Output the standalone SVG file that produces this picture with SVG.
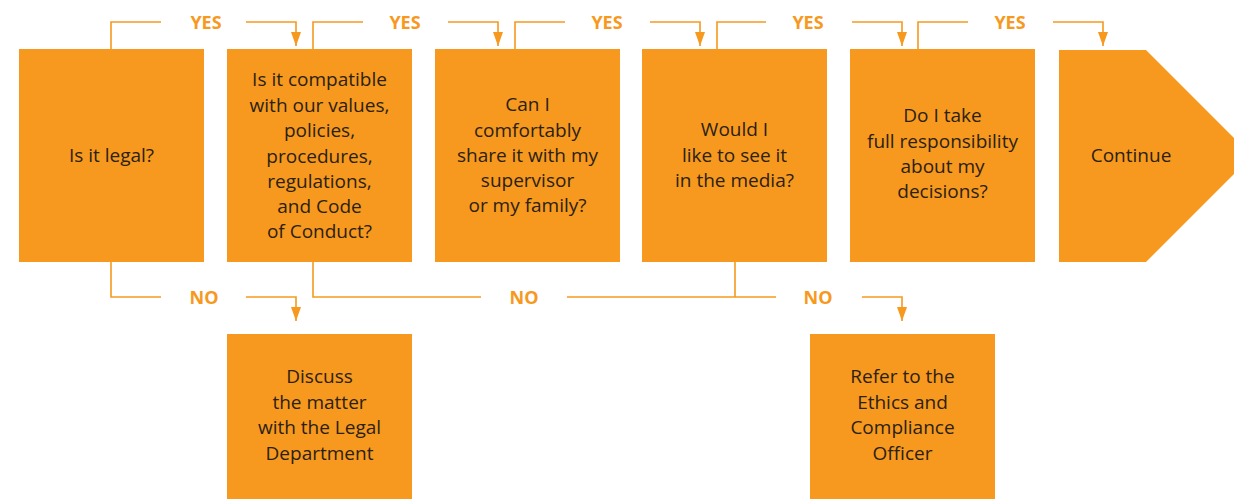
<svg xmlns="http://www.w3.org/2000/svg" width="1234" height="499" viewBox="0 0 1234 499">
<defs>
<marker id="arr" viewBox="0 0 14 10" refX="14" refY="5" markerWidth="14" markerHeight="10" markerUnits="userSpaceOnUse" orient="auto">
<path d="M0,0 L14,5 L0,10 Z" fill="#F7991E"/>
</marker>
<style>
.box{fill:#F7991E;}
.t{font-family:"Open Sans","Liberation Sans",sans-serif;font-size:19px;fill:#2b2113;text-anchor:middle;}
.lbl{font-family:"Open Sans","Liberation Sans",sans-serif;font-size:18px;font-weight:bold;fill:#F7991E;text-anchor:middle;}
.ln{fill:none;stroke:#F7991E;stroke-width:1.6;}
</style>
</defs>
<rect width="1234" height="499" fill="#ffffff"/>
<g id="connectors">
<path class="ln" d="M111,49 V22 H161"/>
<path class="ln" d="M246,22 H296 V46" marker-end="url(#arr)"/>
<path class="ln" d="M313,49 V22 H363"/>
<path class="ln" d="M448,22 H498 V46" marker-end="url(#arr)"/>
<path class="ln" d="M515,49 V22 H565"/>
<path class="ln" d="M650,22 H700 V46" marker-end="url(#arr)"/>
<path class="ln" d="M717,49 V22 H766"/>
<path class="ln" d="M852,22 H902 V46" marker-end="url(#arr)"/>
<path class="ln" d="M918,49 V22 H968"/>
<path class="ln" d="M1053,22 H1103 V46" marker-end="url(#arr)"/>
<path class="ln" d="M111,262 V297 H161"/>
<path class="ln" d="M246,297 H296 V321" marker-end="url(#arr)"/>
<path class="ln" d="M313,262 V297 H481"/>
<path class="ln" d="M567,297 H776"/>
<path class="ln" d="M735,262 V297"/>
<path class="ln" d="M862,297 H902 V321" marker-end="url(#arr)"/>
<text class="lbl" x="206" y="29">YES</text>
<text class="lbl" x="405" y="29">YES</text>
<text class="lbl" x="607" y="29">YES</text>
<text class="lbl" x="808" y="29">YES</text>
<text class="lbl" x="1010" y="29">YES</text>
<text class="lbl" x="204" y="304">NO</text>
<text class="lbl" x="524" y="304">NO</text>
<text class="lbl" x="818" y="304">NO</text>
</g>
<g id="n1">
<rect class="box" x="19" y="49" width="185" height="213"/>
<text class="t" x="111.5" y="162">Is it legal?</text>
</g>
<g id="n2">
<rect class="box" x="227" y="49" width="185" height="213"/>
<text class="t" x="319.5" y="86">Is it compatible</text>
<text class="t" x="319.5" y="111.5">with our values,</text>
<text class="t" x="319.5" y="137">policies,</text>
<text class="t" x="319.5" y="162.5">procedures,</text>
<text class="t" x="319.5" y="188">regulations,</text>
<text class="t" x="319.5" y="213">and Code</text>
<text class="t" x="319.5" y="238">of Conduct?</text>
</g>
<g id="n3">
<rect class="box" x="435" y="49" width="185" height="213"/>
<text class="t" x="527.5" y="111">Can I</text>
<text class="t" x="527.5" y="136.5">comfortably</text>
<text class="t" x="527.5" y="162">share it with my</text>
<text class="t" x="527.5" y="187">supervisor</text>
<text class="t" x="527.5" y="212">or my family?</text>
</g>
<g id="n4">
<rect class="box" x="642" y="49" width="185" height="213"/>
<text class="t" x="734.5" y="136">Would I</text>
<text class="t" x="734.5" y="161.5">like to see it</text>
<text class="t" x="734.5" y="187">in the media?</text>
</g>
<g id="n5">
<rect class="box" x="850" y="49" width="185" height="213"/>
<text class="t" x="942.5" y="122">Do I take</text>
<text class="t" x="942.5" y="148">full responsibility</text>
<text class="t" x="942.5" y="173">about my</text>
<text class="t" x="942.5" y="198">decisions?</text>
</g>
<g id="n6">
<polygon class="box" points="1059,50 1146,50 1252,156 1146,262 1059,262"/>
<text class="t" x="1131" y="162">Continue</text>
</g>
<g id="n7">
<rect class="box" x="227" y="334" width="185" height="170"/>
<text class="t" x="319.5" y="383">Discuss</text>
<text class="t" x="319.5" y="408.5">the matter</text>
<text class="t" x="319.5" y="434">with the Legal</text>
<text class="t" x="319.5" y="460">Department</text>
</g>
<g id="n8">
<rect class="box" x="810" y="334" width="185" height="170"/>
<text class="t" x="902.5" y="383">Refer to the</text>
<text class="t" x="902.5" y="408.5">Ethics and</text>
<text class="t" x="902.5" y="434">Compliance</text>
<text class="t" x="902.5" y="460">Officer</text>
</g>
</svg>
